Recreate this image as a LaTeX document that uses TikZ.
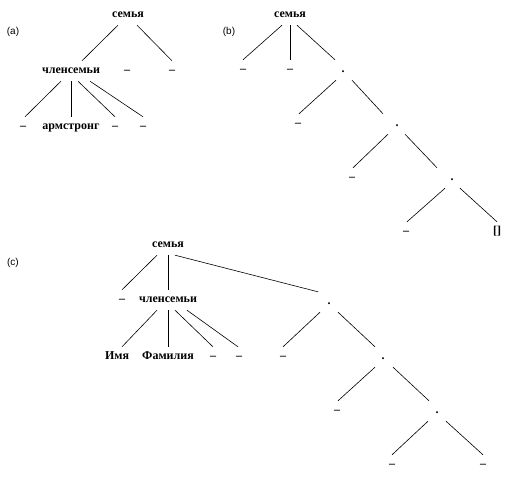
\documentclass[tikz,border=0pt]{standalone}
\usepackage{fontspec}
\setmainfont{Liberation Serif}
\newfontfamily\tagfont{Liberation Sans}

\begin{document}
\begin{tikzpicture}[x=1pt,y=-1pt,
  wd/.style={font=\bfseries\fontsize{12}{14}\selectfont,inner sep=0pt,
             text height=6pt,text depth=1pt,minimum height=20pt},
  tg/.style={font=\tagfont\fontsize{10}{12}\selectfont,inner sep=0pt},
  ln/.style={black,line width=0.6pt}]
\useasboundingbox (0,0) rectangle (509,479);
% (a)
\node[tg] (tagA) at (13,32) {(a)};
\node[wd] (famA) at (128,15) {семья};
\node[wd] (memA) at (71,71) {членсемьи};
\node[wd] (a1) at (127,71) {–};
\node[wd] (a2) at (172,71) {–};
\node[wd] (a3) at (23,127) {–};
\node[wd] (armA) at (71,127) {армстронг};
\node[wd] (a4) at (115,127) {–};
\node[wd] (a5) at (143,127) {–};
\draw[ln] ([xshift=-10pt]famA.south) -- ([xshift=11pt]memA.north);
\draw[ln] ([xshift=9pt]famA.south) -- (a2.north);
\draw[ln] ([xshift=-10pt]memA.south) -- ([xshift=2pt]a3.north);
\draw[ln] (memA.south) -- (armA.north);
\draw[ln] ([xshift=7pt]memA.south) -- (a4.north);
\draw[ln] ([xshift=19pt]memA.south) -- (a5.north);
% (b)
\node[tg] (tagB) at (229,32) {(b)};
\node[wd] (famB) at (290,15) {семья};
\node[wd] (b1) at (243,70) {–};
\node[wd] (b2) at (290,70) {–};
\node[wd] (pB1) at (343,70) {.};
\node[wd] (b3) at (298,124) {–};
\node[wd] (pB2) at (397,124) {.};
\node[wd] (b4) at (352,178) {–};
\node[wd] (pB3) at (452,178) {.};
\node[wd] (b5) at (406,232) {–};
\node[wd] (nilB) at (497,232) {[]};
\draw[ln] ([xshift=-8pt]famB.south) -- (b1.north);
\draw[ln] (famB.south) -- (b2.north);
\draw[ln] ([xshift=7pt]famB.south) -- ([xshift=-8pt]pB1.north);
\draw[ln] ([xshift=-7pt]pB1.south) -- ([xshift=1pt]b3.north);
\draw[ln] ([xshift=9pt]pB1.south) -- ([xshift=-14pt]pB2.north);
\draw[ln] ([xshift=-9pt]pB2.south) -- ([xshift=1pt]b4.north);
\draw[ln] ([xshift=8pt]pB2.south) -- ([xshift=-15pt]pB3.north);
\draw[ln] ([xshift=-7pt]pB3.south) -- ([xshift=1pt]b5.north);
\draw[ln] ([xshift=8pt]pB3.south) -- (nilB.north);
% (c)
\node[tg] (tagC) at (13,263) {(c)};
\node[wd] (famC) at (168,245) {семья};
\node[wd] (c1) at (122,300) {–};
\node[wd] (memC) at (168,300) {членсемьи};
\node[wd] (pC1) at (329,302) {.};
\node[wd] (nameC) at (117,357) {Имя};
\node[wd] (surC) at (168,357) {Фамилия};
\node[wd] (c2) at (213,357) {–};
\node[wd] (c3) at (239,357) {–};
\node[wd] (c4) at (283,357) {–};
\node[wd] (pC2) at (383,357) {.};
\node[wd] (c5) at (337,411) {–};
\node[wd] (pC3) at (437,411) {.};
\node[wd] (c6) at (392,465) {–};
\node[wd] (c7) at (483,465) {–};
\draw[ln] ([xshift=-11pt]famC.south) -- (c1.north);
\draw[ln] (famC.south) -- (memC.north);
\draw[ln] ([xshift=7pt]famC.south) -- ([xshift=-11pt]pC1.north);
\draw[ln] ([xshift=-11pt]memC.south) -- ([xshift=5pt]nameC.north);
\draw[ln] (memC.south) -- (surC.north);
\draw[ln] ([xshift=7pt]memC.south) -- (c2.north);
\draw[ln] ([xshift=19pt]memC.south) -- ([xshift=-1pt]c3.north);
\draw[ln] ([xshift=-9pt]pC1.south) -- (c4.north);
\draw[ln] ([xshift=9pt]pC1.south) -- ([xshift=-8pt]pC2.north);
\draw[ln] ([xshift=-8pt]pC2.south) -- ([xshift=1pt]c5.north);
\draw[ln] ([xshift=10pt]pC2.south) -- ([xshift=-8pt]pC3.north);
\draw[ln] ([xshift=-9pt]pC3.south) -- (c6.north);
\draw[ln] ([xshift=9pt]pC3.south) -- (c7.north);
\end{tikzpicture}
\end{document}
